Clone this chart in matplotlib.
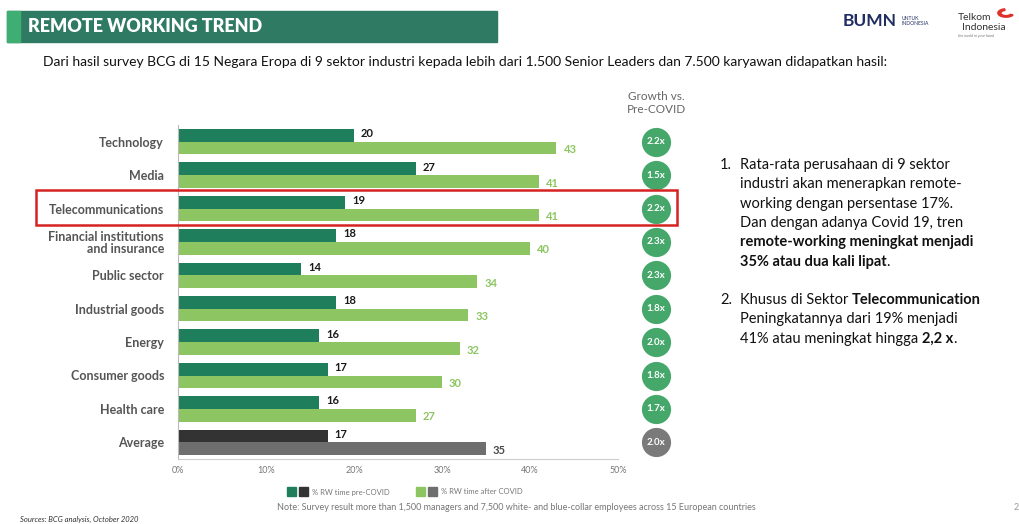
import matplotlib
matplotlib.use("Agg")
import matplotlib.pyplot as plt
import matplotlib.transforms as mtransforms
from matplotlib.patches import Rectangle, Wedge

categories = ["Technology", "Media", "Telecommunications",
              "Financial institutions\nand insurance", "Public sector",
              "Industrial goods", "Energy", "Consumer goods", "Health care", "Average"]
pre_covid = [20, 27, 19, 18, 14, 18, 16, 17, 16, 17]
after_covid = [43, 41, 41, 40, 34, 33, 32, 30, 27, 35]
growth = ["2.2x", "1.5x", "2.2x", "2.3x", "2.3x", "1.8x", "2.0x", "1.8x", "1.7x", "2.0x"]
xticks = [0, 10, 20, 30, 40, 50]
xtick_labels = ["0%", "10%", "20%", "30%", "40%", "50%"]

DARK_G = "#1f7f5c"
LIGHT_G = "#8cc561"
DARK_K = "#333333"
LIGHT_K = "#6e6e6e"
CIRC_G = "#45a86a"
FONT = "Lato"

W, H = 1020, 524
fig = plt.figure(figsize=(W / 100, H / 100), dpi=100)
fig.patch.set_facecolor("white")

def fx(px):
    return px / W

def fy(py):
    return 1 - py / H

# Header bar
fig.patches.append(Rectangle((fx(7), fy(42)), fx(490), 31 / H, transform=fig.transFigure,
                             color="#2f7a62", zorder=0))
fig.patches.append(Rectangle((fx(7), fy(42)), fx(13), 31 / H, transform=fig.transFigure,
                             color="#3fae72", zorder=1))
fig.text(fx(28), fy(27), "REMOTE WORKING TREND", color="white", fontsize=13,
         fontweight="heavy", family=FONT, va="center", ha="left")

# Logos (text approximations)
fig.text(fx(843), fy(21), "BUMN", color="#1f2d62", fontsize=12.5, fontweight="bold",
         family=FONT, va="center", ha="left")
fig.text(fx(902), fy(21), "UNTUK\nINDONESIA", color="#1f2d62", fontsize=3.6,
         family=FONT, va="center", ha="left", linespacing=1.1)
fig.text(fx(958), fy(17), "Telkom", color="#333333", fontsize=7.5, family=FONT,
         va="center", ha="left")
fig.text(fx(962), fy(27), "Indonesia", color="#333333", fontsize=7.5, family=FONT,
         va="center", ha="left")
fig.text(fx(958), fy(36), "the world in your hand", color="#777777", fontsize=2.8,
         family=FONT, va="center", ha="left", style="italic")
fig.patches.append(Wedge((fx(1006), fy(13)), 0.008, 100, 330,
                   width=0.003, transform=fig.transFigure, color="#e0302a"))

# Subtitle
fig.text(fx(43), fy(62), "Dari hasil survey BCG di 15 Negara Eropa di 9 sektor industri kepada lebih dari "
         "1.500 Senior Leaders dan 7.500 karyawan didapatkan hasil:",
         fontsize=10, family=FONT, va="center", ha="left", color="#111111")

# Chart axes
ax = fig.add_axes([fx(178), 1 - 459 / H, 440 / W, 334 / H])
n = len(categories)
ys = list(range(n))
bh = 0.38
pre_colors = [DARK_G] * (n - 1) + [DARK_K]
post_colors = [LIGHT_G] * (n - 1) + [LIGHT_K]
ax.barh([y - bh / 2 for y in ys], pre_covid, height=bh, color=pre_colors, zorder=2)
ax.barh([y + bh / 2 for y in ys], after_covid, height=bh, color=post_colors, zorder=2)

for i, (a, b) in enumerate(zip(pre_covid, after_covid)):
    ax.text(a + 0.8, i - bh / 2 - 0.05, str(a), fontsize=8, fontweight="bold",
            color="#1a1a1a", va="center", ha="left", family=FONT)
    col = LIGHT_G if i < n - 1 else "#4a4a4a"
    ax.text(b + 0.8, i + bh / 2 + 0.05, str(b), fontsize=8, fontweight="bold",
            color=col, va="center", ha="left", family=FONT)

ax.set_xlim(0, 50)
ax.set_ylim(n - 0.5, -0.5)
ax.set_yticks(ys)
ax.set_yticklabels(categories, fontsize=9, fontweight="bold", color="#555555",
                   family=FONT, linespacing=1.05)
ax.set_xticks(xticks)
ax.set_xticklabels(xtick_labels, fontsize=6.5, color="#777777", family=FONT)
ax.tick_params(axis="both", length=0)
ax.tick_params(axis="y", pad=10)
ax.tick_params(axis="x", pad=5)
for s in ["top", "right"]:
    ax.spines[s].set_visible(False)
ax.spines["left"].set_color("#bbbbbb")
ax.spines["bottom"].set_color("#cccccc")
ax.spines["left"].set_linewidth(0.8)
ax.spines["bottom"].set_linewidth(0.8)

# Growth column
trans = mtransforms.blended_transform_factory(fig.transFigure, ax.transData)
fig.text(fx(656), fy(103), "Growth vs.\nPre-COVID", fontsize=8.5, color="#666666",
         family=FONT, ha="center", va="center", linespacing=1.15)
for i, g in enumerate(growth):
    c = CIRC_G if i < n - 1 else "#7a7a7a"
    ax.plot([fx(656)], [i], marker="o", markersize=21, color=c, transform=trans,
            clip_on=False, markeredgewidth=0)
    ax.text(fx(656), i, g, transform=trans, fontsize=7, fontweight="bold",
            color="white", ha="center", va="center", family=FONT)

# Red highlight box
fig.patches.append(Rectangle((fx(36), fy(225)), fx(641), 35 / H, transform=fig.transFigure,
                             fill=False, edgecolor="#d62222", linewidth=1.8, zorder=5))

# Legend
lg_y = fy(492)
for x0, col in [(287, DARK_G), (299, DARK_K), (416, LIGHT_G), (428, LIGHT_K)]:
    fig.patches.append(Rectangle((fx(x0), lg_y - 4 / H), 9 / W, 9 / H,
                                 transform=fig.transFigure, color=col))
fig.text(fx(312), lg_y, "% RW time pre-COVID", fontsize=5.5, color="#777777",
         family=FONT, va="center", ha="left")
fig.text(fx(441), lg_y, "% RW time after COVID", fontsize=5.5, color="#777777",
         family=FONT, va="center", ha="left")

fig.text(fx(516), fy(508), "Note: Survey result more than 1,500 managers and 7,500 white- and "
         "blue-collar employees across 15 European countries", fontsize=6.5,
         color="#777777", family=FONT, va="center", ha="center")
fig.text(fx(20), fy(519), "Sources: BCG analysis, October 2020", fontsize=5.5,
         color="#333333", family=FONT, style="italic", va="center", ha="left")
fig.text(fx(1016), fy(507), "2", fontsize=6.5, color="#999999", family=FONT,
         va="center", ha="center")

# Right text block
x_num = fx(720)
x_txt = fx(740)
lines1 = [
    ("Rata-rata perusahaan di 9 sektor", "normal"),
    ("industri akan menerapkan remote-", "normal"),
    ("working dengan persentase 17%.", "normal"),
    ("Dan dengan adanya Covid 19, tren", "normal"),
    ("remote-working meningkat menjadi", "bold"),
]
y0 = 165
step = 19.3
fig.text(x_num, fy(y0), "1.", fontsize=10.5, family=FONT, va="center", ha="left", color="#111111")
for k, (t, w) in enumerate(lines1):
    fig.text(x_txt, fy(y0 + k * step), t, fontsize=10.5, family=FONT, fontweight=w,
             va="center", ha="left", color="#111111")
t1 = fig.text(x_txt, fy(y0 + 5 * step), "35% atau dua kali lipat", fontsize=10.5,
              family=FONT, fontweight="bold", va="center", ha="left", color="#111111")
fig.canvas.draw()
bb = t1.get_window_extent()
fig.text(bb.x1 / W, fy(y0 + 5 * step), ".", fontsize=10.5, family=FONT,
         va="center", ha="left", color="#111111")

y2 = 300
fig.text(x_num, fy(y2), "2.", fontsize=10.5, family=FONT, va="center", ha="left", color="#111111")
t2 = fig.text(x_txt, fy(y2), "Khusus di Sektor ", fontsize=10.5, family=FONT,
              va="center", ha="left", color="#111111")
fig.canvas.draw()
bb = t2.get_window_extent()
fig.text(bb.x1 / W, fy(y2), "Telecommunication", fontsize=10.5, family=FONT,
         fontweight="bold", va="center", ha="left", color="#111111")
fig.text(x_txt, fy(y2 + step), "Peningkatannya dari 19% menjadi", fontsize=10.5,
         family=FONT, va="center", ha="left", color="#111111")
t3 = fig.text(x_txt, fy(y2 + 2 * step), "41% atau meningkat hingga ", fontsize=10.5,
              family=FONT, va="center", ha="left", color="#111111")
fig.canvas.draw()
bb = t3.get_window_extent()
t4 = fig.text(bb.x1 / W, fy(y2 + 2 * step), "2,2 x", fontsize=10.5, family=FONT,
              fontweight="bold", va="center", ha="left", color="#111111")
fig.canvas.draw()
bb = t4.get_window_extent()
fig.text(bb.x1 / W, fy(y2 + 2 * step), ".", fontsize=10.5, family=FONT,
         va="center", ha="left", color="#111111")

fig.savefig("out.png", dpi=100, facecolor="white")
